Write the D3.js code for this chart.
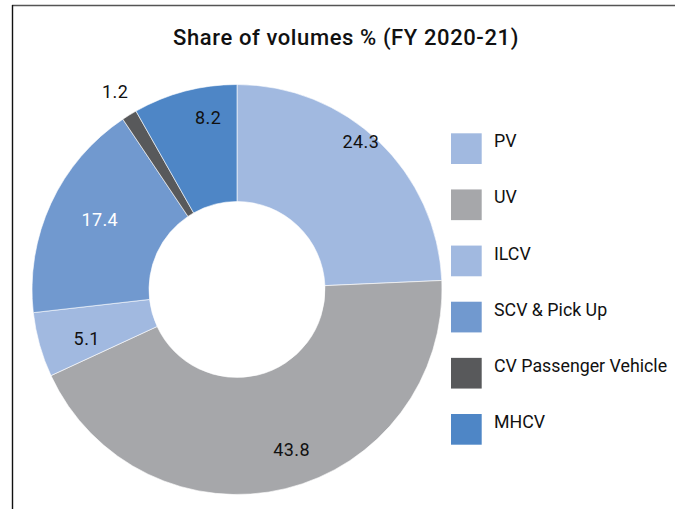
<!DOCTYPE html>
<html><head><meta charset="utf-8">
<script src="https://cdn.jsdelivr.net/npm/d3@7"></script>
<style>body{margin:0;background:#fff}svg{display:block}text{font-family:Roboto,"DejaVu Sans",sans-serif}</style>
</head><body>
<svg id="c" width="675" height="509"></svg>
<script>
const categories = ["PV","UV","ILCV","SCV & Pick Up","CV Passenger Vehicle","MHCV"];
const values = [24.3, 43.8, 5.1, 17.4, 1.2, 8.2];
const colors = ["#A1B9E0","#A6A7AA","#A1B9E0","#7199CF","#58595B","#4E86C6"];
const labelColors = ["#111","#111","#111","#fff","#111","#111"];
const title = "Share of volumes % (FY 2020-21)";

// label layout (polar radius / angle nudge in degrees) - styling only
const labelRadius = [193, 169, 158, 154, 232, 174];
const labelNudge = [-3.8, -5.2, -2.3, 2.1, 0, 5.2];

const svg = d3.select("#c");
svg.append("line").attr("x1",12).attr("x2",675).attr("y1",5.5).attr("y2",5.5).attr("stroke","#555").attr("stroke-width",1.6);
svg.append("line").attr("x1",12.5).attr("x2",12.5).attr("y1",5).attr("y2",509).attr("stroke","#111").attr("stroke-width",1.4);

svg.append("text").attr("x",346).attr("y",45).attr("text-anchor","middle")
  .attr("font-size",22).attr("font-weight",500).attr("letter-spacing",0.6).attr("fill","#111").text(title);

const cx = 237, cy = 289.5, R = 205, r = 88;
const pie = d3.pie().sort(null).value(d => d)(values);
const arc = d3.arc().innerRadius(r).outerRadius(R);
const g = svg.append("g").attr("transform",`translate(${cx},${cy})`);
g.selectAll("path").data(pie).join("path")
  .attr("d",arc).attr("fill",(d,i)=>colors[i]).attr("stroke","#fff").attr("stroke-width",0.6);

g.selectAll("text.lbl").data(pie).join("text").attr("class","lbl")
  .attr("x",(d,i)=>{const a=(d.startAngle+d.endAngle)/2 + labelNudge[i]*Math.PI/180; return labelRadius[i]*Math.sin(a);})
  .attr("y",(d,i)=>{const a=(d.startAngle+d.endAngle)/2 + labelNudge[i]*Math.PI/180; return -labelRadius[i]*Math.cos(a);})
  .attr("dy","0.35em").attr("text-anchor","middle").attr("font-size",18).attr("letter-spacing",0.4)
  .attr("fill",(d,i)=>labelColors[i]).text(d=>d.data.toFixed(1));

const ly = d3.scalePoint().domain(categories).range([133.3, 414]);
const lg = svg.append("g");
lg.selectAll("rect").data(categories).join("rect")
  .attr("x",451).attr("y",d=>ly(d)).attr("width",30.7).attr("height",30.7)
  .attr("fill",(d,i)=>colors[i]);
lg.selectAll("text").data(categories).join("text")
  .attr("x",494).attr("y",d=>ly(d)+14).attr("font-size",17.8).attr("fill","#111").text(d=>d);
</script>
</body></html>
